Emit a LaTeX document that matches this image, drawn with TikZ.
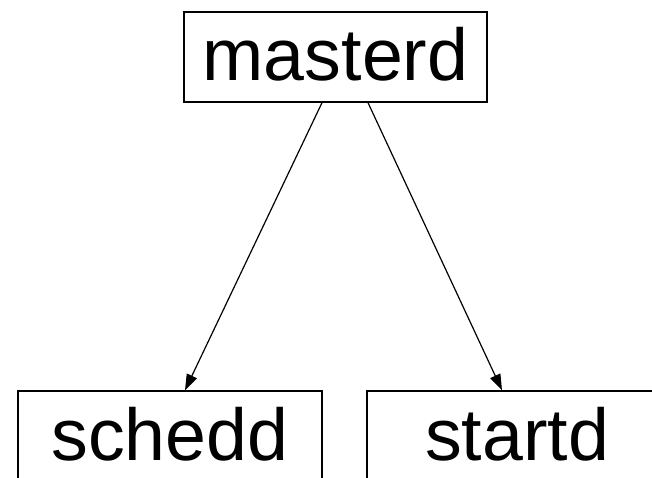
\documentclass[tikz,border=0pt]{standalone}
\usepackage{fontspec}
\setmainfont{Liberation Sans}
\usetikzlibrary{arrows.meta}
\begin{document}
\begin{tikzpicture}[x=1pt,y=-1pt,
  daemon/.style={draw=black, line width=1.4pt, inner sep=0pt,
    minimum height=90pt, text height=48pt, text depth=0pt,
    font=\fontsize{73.5}{80}\selectfont},
  link/.style={line width=1.2pt, -{Triangle[length=16pt,width=11pt]}}]
  \useasboundingbox (0,0) rectangle (652,478);
  \fill[white] (0,0) rectangle (652,478);
  % daemon boxes
  \node[daemon, minimum width=303pt] (masterd) at (335.5,57) {masterd};
  \node[daemon, minimum width=304pt] (schedd) at (170,436) {schedd};
  \node[daemon, minimum width=300pt] (startd) at (517,436) {startd};
  % spawn arrows
  \draw[link] ([xshift=-13.5pt]masterd.south) -- ([xshift=15pt]schedd.north);
  \draw[link] ([xshift=32.5pt]masterd.south) -- ([xshift=-15pt]startd.north);
\end{tikzpicture}
\end{document}
